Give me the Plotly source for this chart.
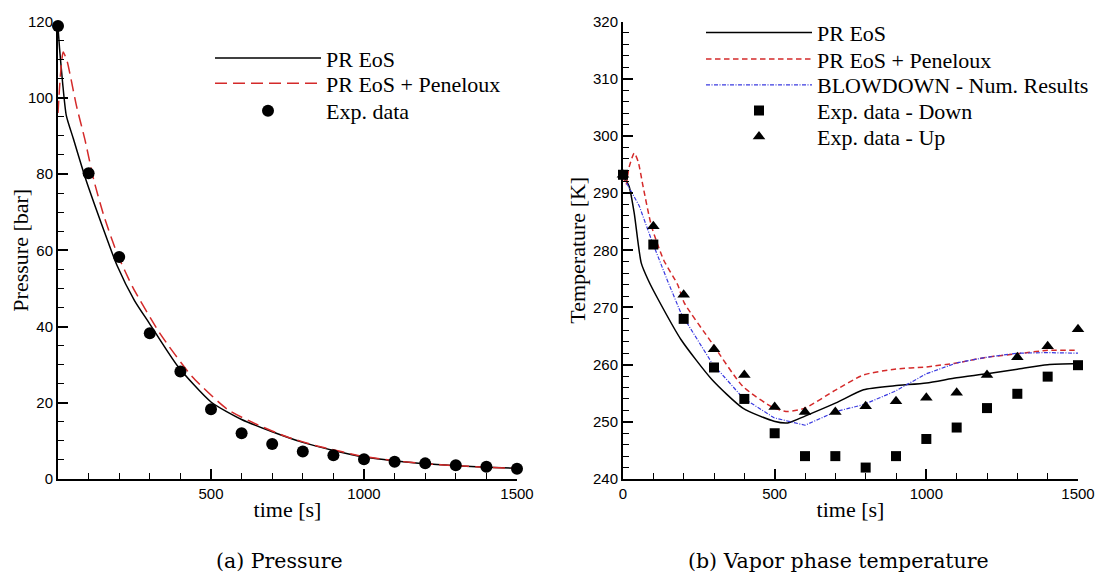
import plotly.graph_objects as go

# ---------------- data: (a) pressure ----------------
t_exp = [0, 100, 200, 300, 400, 500, 600, 700, 800, 900, 1000, 1100, 1200, 1300, 1400, 1500]
p_exp = [118.8, 80.2, 58.2, 38.2, 28.2, 18.3, 12.0, 9.2, 7.2, 6.2, 5.2, 4.5, 4.1, 3.6, 3.2, 2.7]

t_pr = [0, 5, 15, 27, 50, 88, 150, 193, 250, 298, 392, 500, 600, 700, 800, 900, 1000,
        1100, 1200, 1300, 1400, 1500]
p_pr = [118.5, 113.0, 104.0, 95.4, 89.3, 79.3, 65.2, 56.0, 46.8, 40.9, 29.5, 20.2, 15.6,
        12.4, 9.6, 7.5, 5.8, 4.8, 4.0, 3.5, 3.1, 2.8]

t_pen = [0, 8, 17, 30, 41, 60, 88, 117, 150, 193, 245, 333, 438, 555, 650, 750, 850, 1000,
         1100, 1200, 1300, 1400, 1500]
p_pen = [96.0, 106.0, 112.0, 109.5, 105.5, 98.0, 89.0, 78.4, 69.0, 59.2, 50.2, 38.2, 26.9,
         18.2, 14.3, 11.0, 8.6, 5.9, 4.8, 4.0, 3.5, 3.1, 2.8]

# ---------------- data: (b) temperature ----------------
t_T = [0, 100, 200, 300, 400, 500, 600, 700, 800, 900, 1000, 1100, 1200, 1300, 1400, 1500]
T_down = [293.2, 281.0, 268.0, 259.5, 254.0, 248.0, 244.0, 244.0, 242.0, 244.0, 247.0,
          249.0, 252.4, 254.9, 257.9, 259.9]
T_up = [293.2, 284.2, 272.2, 262.7, 258.2, 252.6, 251.7, 251.7, 252.7, 253.6, 254.2,
        255.1, 258.2, 261.3, 263.2, 266.2]

t_prT = [0, 20, 37, 60, 83, 117, 191, 293, 395, 498, 543, 600, 702, 793, 895, 1000, 1100,
         1200, 1300, 1400, 1500]
T_pr = [293.2, 291.2, 286.5, 277.8, 274.8, 271.3, 264.4, 257.4, 252.4, 250.1, 249.8, 251.0,
        253.3, 255.6, 256.3, 256.8, 257.7, 258.4, 259.2, 260.0, 260.2]

t_penT = [0, 10, 20, 37, 50, 66, 94, 134, 180, 202, 293, 395, 498, 543, 600, 702, 793, 895,
          1000, 1100, 1200, 1300, 1400, 1500]
T_pen = [293.0, 291.5, 294.5, 297.0, 295.5, 291.2, 284.2, 278.3, 274.0, 270.8, 263.8, 256.2,
         252.4, 251.8, 252.4, 255.6, 258.2, 259.2, 259.6, 260.3, 261.3, 261.9, 262.5, 262.5]

t_bd = [0, 9, 54, 94, 145, 174, 191, 293, 395, 498, 600, 702, 793, 895, 1000, 1100, 1200,
        1300, 1400, 1500]
T_bd = [293.0, 292.0, 287.7, 281.8, 274.9, 271.3, 269.0, 260.3, 254.2, 250.7, 249.4, 251.8,
        253.0, 255.3, 258.4, 260.3, 261.3, 262.0, 262.1, 262.0]

# tick labels
x1_ticks = [500, 1000, 1500]
y1_ticks = [0, 20, 40, 60, 80, 100, 120]
x2_ticks = [0, 500, 1000, 1500]
y2_ticks = [240, 250, 260, 270, 280, 290, 300, 310, 320]

SERIF = "Liberation Serif"
SANS = "Liberation Sans"

# page body has an 8px margin: figure is drawn at (8, 8) in the window
OFF = 8
W, H = 1104 - 2 * OFF, 581 - 2 * OFF


def px(X):
    return (X - OFF) / W


def py(Y):
    return 1 - (Y - OFF) / H


fig = go.Figure()

# (a)
fig.add_trace(go.Scatter(x=t_pr, y=p_pr, mode="lines", name="PR EoS",
                         line=dict(color="black", width=1.5, shape="spline", smoothing=0.6),
                         xaxis="x", yaxis="y", legend="legend"))
fig.add_trace(go.Scatter(x=t_pen, y=p_pen, mode="lines", name="PR EoS + Peneloux",
                         line=dict(color="#d42a2a", width=1.5, dash="12px,6px",
                                   shape="spline", smoothing=0.6),
                         xaxis="x", yaxis="y", legend="legend2"))
fig.add_trace(go.Scatter(x=t_exp, y=p_exp, mode="markers", name="Exp. data",
                         marker=dict(color="black", size=12, symbol="circle"),
                         cliponaxis=False, xaxis="x", yaxis="y", legend="legend3"))

# (b)
fig.add_trace(go.Scatter(x=t_prT, y=T_pr, mode="lines", name="PR EoS",
                         line=dict(color="black", width=1.5, shape="spline", smoothing=0.6),
                         xaxis="x2", yaxis="y2", legend="legend4"))
fig.add_trace(go.Scatter(x=t_penT, y=T_pen, mode="lines", name="PR EoS + Peneloux",
                         line=dict(color="#d42a2a", width=1.5, dash="5.5px,3.5px",
                                   shape="spline", smoothing=0.6),
                         xaxis="x2", yaxis="y2", legend="legend5"))
fig.add_trace(go.Scatter(x=t_bd, y=T_bd, mode="lines", name="BLOWDOWN - Num. Results",
                         line=dict(color="#3a3ae0", width=1.2, dash="4px,1.5px,1px,1.5px"),
                         xaxis="x2", yaxis="y2", legend="legend6"))
fig.add_trace(go.Scatter(x=t_T, y=T_down, mode="markers", name="Exp. data - Down",
                         marker=dict(color="black", size=10, symbol="square"),
                         cliponaxis=False, xaxis="x2", yaxis="y2", legend="legend7"))
fig.add_trace(go.Scatter(x=t_T, y=T_up, mode="markers", name="Exp. data - Up",
                         marker=dict(color="black", size=11, symbol="triangle-up"),
                         cliponaxis=False, xaxis="x2", yaxis="y2", legend="legend8"))

ydom = [py(479), py(21.5)]

common_axis = dict(showline=True, linecolor="black", linewidth=2, showgrid=False,
                   zeroline=False, ticks="inside", ticklen=10, tickwidth=1.5,
                   tickcolor="black", mirror=False, automargin=False,
                   ticklabeloverflow="allow",
                   tickfont=dict(family=SANS, size=15, color="black"),
                   title_font=dict(family=SERIF, size=22, color="black"))


def leg(text_x, row_y, iw):
    return dict(x=px(text_x) - (41 + iw - 30) / W, y=py(row_y), xanchor="left",
                yanchor="middle", bgcolor="rgba(0,0,0,0)", itemwidth=iw,
                font=dict(family=SERIF, size=22, color="black"))


IW = 106
fig.update_layout(
    width=W, height=H, template="none", showlegend=True,
    paper_bgcolor="white", plot_bgcolor="white",
    margin=dict(l=0, r=0, t=0, b=0),
    xaxis=dict(common_axis, domain=[px(58), px(517)], range=[0, 1500], anchor="y",
               tickmode="array", tickvals=x1_ticks,
               minor=dict(tickmode="linear", tick0=0, dtick=100, ticks="inside",
                          ticklen=6, tickwidth=1, tickcolor="black"),
               title=dict(text="time [s]", standoff=1)),
    yaxis=dict(common_axis, domain=ydom, range=[0, 120], anchor="x",
               tickmode="array", tickvals=y1_ticks,
               minor=dict(tickmode="linear", tick0=0, dtick=5, ticks="inside",
                          ticklen=6, tickwidth=1, tickcolor="black"),
               title=dict(text="Pressure [bar]", standoff=0)),
    xaxis2=dict(common_axis, domain=[px(623), px(1078)], range=[0, 1500], anchor="y2",
                tickmode="array", tickvals=x2_ticks,
                minor=dict(tickmode="linear", tick0=0, dtick=100, ticks="inside",
                           ticklen=6, tickwidth=1, tickcolor="black"),
                title=dict(text="time [s]", standoff=1)),
    yaxis2=dict(common_axis, domain=ydom, range=[240, 320], anchor="x2",
                tickmode="array", tickvals=y2_ticks,
                minor=dict(tickmode="linear", tick0=240, dtick=2, ticks="inside",
                           ticklen=6, tickwidth=1, tickcolor="black"),
                title=dict(text="Temperature [K]", standoff=1)),
    legend=leg(327, 58.3, IW),
    legend2=leg(327, 83.5, IW),
    legend3=leg(327, 111, IW),
    legend4=leg(818, 32.7, IW),
    legend5=leg(818, 59.3, IW),
    legend6=leg(818, 85, IW),
    legend7=leg(818, 110.7, IW),
    legend8=leg(818, 136.7, IW),
    annotations=[
        dict(text="(a) Pressure", x=px(279), y=py(561), xref="paper", yref="paper",
             showarrow=False, xanchor="center", yanchor="middle",
             font=dict(family="DejaVu Serif", size=20.5, color="black")),
        dict(text="(b) Vapor phase temperature", x=px(838), y=py(561), xref="paper",
             yref="paper", showarrow=False, xanchor="center", yanchor="middle",
             font=dict(family="DejaVu Serif", size=20.5, color="black")),
    ],
)

fig.write_html("out.html")
